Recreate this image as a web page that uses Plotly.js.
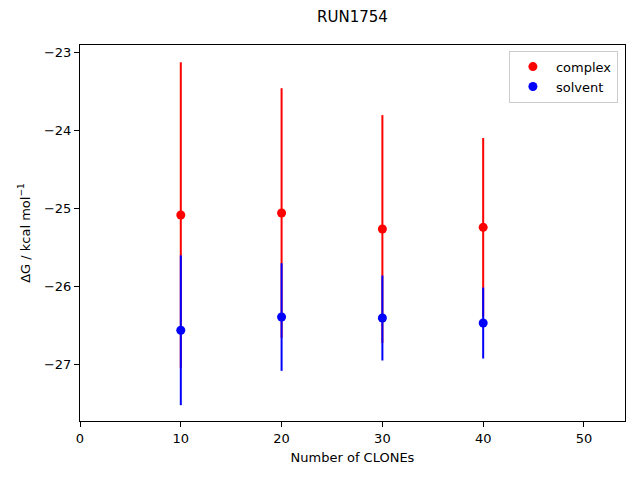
<!DOCTYPE html>
<html>
<head>
<meta charset="utf-8">
<script src="https://cdn.plot.ly/plotly-3.0.1.min.js"></script>
<style>html,body{margin:0;padding:0;background:#fff;}#chart{width:640px;height:480px;}</style>
</head>
<body>
<div id="chart"></div>
<script>
const clones = [10, 20, 30, 40];
const complexDG = [-25.086, -25.060, -25.265, -25.244];
const complexErr = [1.96, 1.60, 1.46, 1.145];
const solventDG = [-26.564, -26.394, -26.406, -26.471];
const solventErr = [0.96, 0.69, 0.545, 0.455];
const xTicks = [0, 10, 20, 30, 40, 50];
const yTicks = [-27, -26, -25, -24, -23];

const font = {family: 'DejaVu Sans', size: 13, color: '#000'};

const traces = [
  {
    x: clones, y: complexDG, name: 'complex', type: 'scatter', mode: 'markers',
    marker: {color: '#ff0000', size: 9},
    error_y: {type: 'data', array: complexErr, visible: true, color: '#ff0000', thickness: 2, width: 0}
  },
  {
    x: clones, y: solventDG, name: 'solvent', type: 'scatter', mode: 'markers',
    marker: {color: '#0000ff', size: 9},
    error_y: {type: 'data', array: solventErr, visible: true, color: '#0000ff', thickness: 2, width: 0}
  }
];

const axisCommon = {
  showline: true, mirror: true, linecolor: '#000', linewidth: 1,
  ticks: 'outside', ticklen: 5, tickwidth: 1, tickcolor: '#000',
  showgrid: false, zeroline: false,
  tickfont: {family: 'DejaVu Sans', size: 13, color: '#000'}
};

const layout = {
  width: 640, height: 480,
  margin: {l: 80, r: 15, t: 45, b: 59},
  paper_bgcolor: '#fff', plot_bgcolor: '#fff',
  font: font,
  title: {text: 'RUN1754', x: 0.5, xref: 'paper', xanchor: 'center', y: 0.965, yanchor: 'middle',
          font: {family: 'DejaVu Sans', size: 15, color: '#000'}},
  xaxis: Object.assign({}, axisCommon, {
    range: [0, 54.07], tickvals: xTicks, ticktext: xTicks.map(String),
    title: {text: 'Number of CLONEs', font: {family: 'DejaVu Sans', size: 13}, standoff: 8}
  }),
  yaxis: Object.assign({}, axisCommon, {
    range: [-27.727, -22.906], tickvals: yTicks, ticktext: yTicks.map(v => '\u2212' + Math.abs(v)),
    title: {text: '\u0394G / kcal mol<sup>\u22121</sup>', font: {family: 'DejaVu Sans', size: 13}, standoff: 10}
  }),
  legend: {
    x: 0.987, y: 0.985, xanchor: 'right', yanchor: 'top',
    bgcolor: 'rgba(255,255,255,0.8)', bordercolor: '#cccccc', borderwidth: 1,
    font: {family: 'DejaVu Sans', size: 13, color: '#000'},
    itemwidth: 36, tracegroupgap: 0
  },
  showlegend: true
};

Plotly.newPlot('chart', traces, layout, {displayModeBar: false, staticPlot: true});
</script>
</body>
</html>
